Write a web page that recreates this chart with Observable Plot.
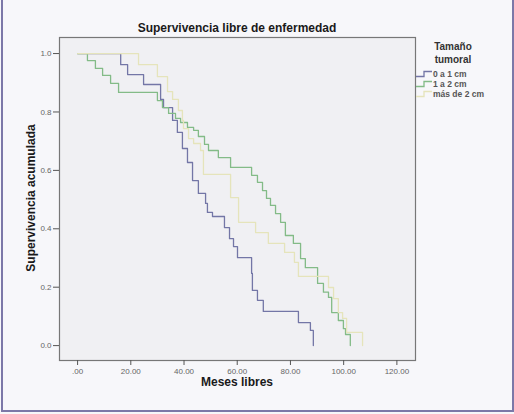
<!DOCTYPE html>
<html><head><meta charset="utf-8">
<script src="https://cdn.jsdelivr.net/npm/d3@7"></script>
<script src="https://cdn.jsdelivr.net/npm/@observablehq/plot@0.6"></script>
<style>
html,body{margin:0;padding:0;background:#fff;}
#wrap{position:relative;width:514px;height:414px;background:#f7f7fa;overflow:hidden;font-family:"Liberation Sans",Arial,sans-serif;}
#border{position:absolute;left:1px;top:-3px;width:513px;height:415px;border:2px solid #7c78a8;box-sizing:border-box;}
#chart{position:absolute;left:0;top:0;}
.lbl{position:absolute;font-weight:bold;color:#1a1a1a;white-space:nowrap;}
#title{left:59px;width:356px;top:21px;text-align:center;font-size:12px;}
#xlab{left:59px;width:356px;top:375px;text-align:center;font-size:12px;}
#ylab{left:31px;top:198px;font-size:12px;transform:translate(-50%,-50%) rotate(-90deg);}
#legend{position:absolute;left:416px;top:40px;width:74px;}
#legtitle{text-align:center;font-weight:bold;font-size:10px;line-height:13px;color:#333;}
.item{display:flex;align-items:center;height:10px;font-size:8.5px;font-weight:bold;color:#555;white-space:nowrap;}
.item svg{margin-right:1px;}
</style></head>
<body>
<div id="wrap">
  <div id="chart"></div>
  <div id="title" class="lbl">Supervivencia libre de enfermedad</div>
  <div id="xlab" class="lbl">Meses libres</div>
  <div id="ylab" class="lbl">Supervivencia acumulada</div>
  <div id="legend"><div id="legtitle">Tamaño<br>tumoral</div><div id="items" style="margin-top:3px"></div></div>
  <div id="border"></div>
</div>
<script>
// Legend categories
const groups = ["0 a 1 cm", "1 a 2 cm", "más de 2 cm"];
const colors = ["#7376a6", "#83bb87", "#e5e4bb"];

// 0 a 1 cm: event times (months) and survival after each step
const tA = [16.2, 18.8, 24.8, 31.2, 32.3, 35.7, 37.5, 39.4, 41.3, 43.2, 45.4, 48.1, 48.8, 50.7, 55.2, 57.1, 58.6, 60.1, 65.4, 65.7, 67.6, 69.8, 83.0, 87.5, 88.6];
const sA = [0.962, 0.928, 0.894, 0.843, 0.815, 0.771, 0.730, 0.675, 0.627, 0.565, 0.521, 0.487, 0.456, 0.442, 0.404, 0.366, 0.339, 0.301, 0.247, 0.189, 0.155, 0.117, 0.079, 0.052, 0.0];

// 1 a 2 cm
const tB = [3.7, 6.7, 9.4, 12.4, 15.4, 30.0, 31.9, 34.2, 36.8, 38.7, 41.3, 43.6, 45.4, 47.7, 49.2, 52.9, 57.5, 65.4, 67.6, 69.5, 71.0, 72.5, 74.4, 76.3, 78.1, 81.1, 83.8, 85.6, 90.2, 92.4, 94.3, 95.5, 98.0, 99.9, 100.7, 102.5];
const sB = [0.976, 0.949, 0.925, 0.898, 0.867, 0.839, 0.815, 0.795, 0.778, 0.764, 0.747, 0.737, 0.716, 0.689, 0.668, 0.644, 0.610, 0.583, 0.559, 0.531, 0.504, 0.480, 0.452, 0.422, 0.377, 0.350, 0.298, 0.267, 0.213, 0.183, 0.165, 0.113, 0.086, 0.058, 0.038, 0.0];

// más de 2 cm
const tC = [22.9, 30.0, 33.8, 35.7, 37.9, 39.4, 39.8, 41.7, 43.6, 46.2, 47.3, 57.5, 60.5, 66.9, 71.7, 77.8, 81.5, 83.0, 94.3, 96.2, 98.0, 99.6, 101.1, 107.1];
const sC = [0.962, 0.921, 0.870, 0.843, 0.805, 0.771, 0.743, 0.709, 0.692, 0.668, 0.586, 0.507, 0.422, 0.387, 0.350, 0.319, 0.285, 0.237, 0.199, 0.161, 0.113, 0.093, 0.045, 0.0];

const xTicks = [0, 20, 40, 60, 80, 100, 120];
const yTicks = [0, 0.2, 0.4, 0.6, 0.8, 1.0];

const seriesT = [tA, tB, tC], seriesS = [sA, sB, sC];
const rows = groups.flatMap((g, k) => [{g, t: 0, s: 1}, ...seriesT[k].map((t, i) => ({g, t, s: seriesS[k][i]}))]);

const chart = Plot.plot({
  width: 514, height: 414,
  marginLeft: 59, marginRight: 99, marginTop: 37, marginBottom: 54,
  style: {background: "transparent", fontFamily: "'Liberation Sans', Arial, sans-serif", fontSize: "8px", color: "#666"},
  x: {domain: [-6.8, 127], label: null},
  y: {domain: [-0.051, 1.055], label: null},
  color: {domain: groups, range: colors},
  marks: [
    Plot.frame({fill: "#f0f0f3"}),
    Plot.line(rows, {x: "t", y: "s", z: "g", stroke: "g", curve: "step-after", strokeWidth: 1.3}),
    Plot.frame({stroke: "#777", strokeWidth: 1.2}),
    Plot.axisX({ticks: xTicks, tickFormat: d => d === 0 ? ".00" : d.toFixed(2), tickSize: 5, tickPadding: 3, stroke: "#555", label: null}),
    Plot.axisY({ticks: yTicks, tickFormat: d => d.toFixed(1), tickSize: 6, tickPadding: 2, stroke: "#555", label: null})
  ]
});
document.getElementById("chart").appendChild(chart);

const items = document.getElementById("items");
groups.forEach((g, k) => {
  const d = document.createElement("div");
  d.className = "item";
  d.innerHTML = `<svg width="16" height="8"><path d="M0,6.5H8V1.5H16" fill="none" stroke="${colors[k]}" stroke-width="1.3"/></svg><span>${g}</span>`;
  items.appendChild(d);
});
</script>
</body></html>
